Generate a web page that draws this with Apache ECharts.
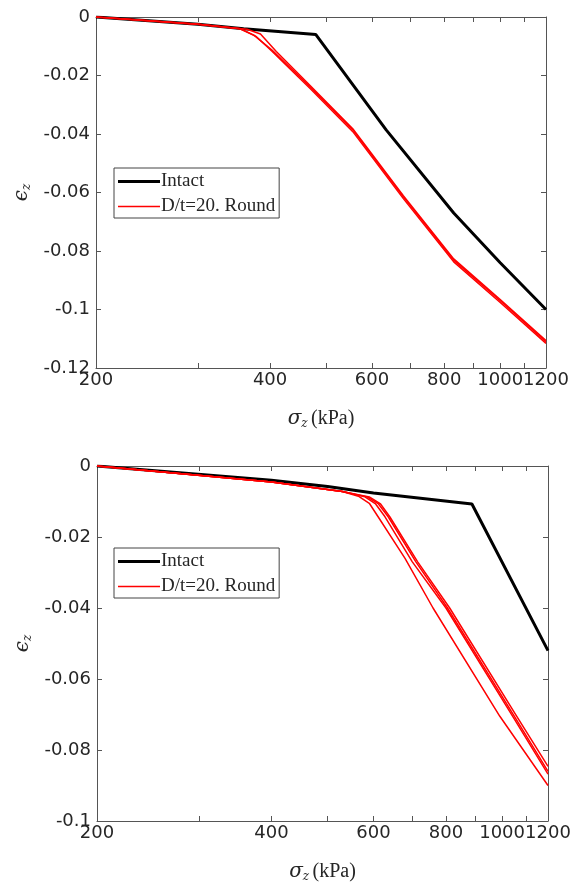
<!DOCTYPE html>
<html><head><meta charset="utf-8">
<script src="https://cdn.jsdelivr.net/npm/echarts@6/dist/echarts.min.js"></script>
<style>html,body{margin:0;padding:0;background:#fff}#c{width:576px;height:884px}</style>
</head><body><div id="c"></div>
<script>
// sigma_z (kPa), eps_z
const xTickLabels = [200, 400, 600, 800, 1000, 1200];
const xMinorTicks = [200, 300, 400, 500, 600, 700, 800, 900, 1000, 1100, 1200];
const topIntact = [[200,0],[300,-0.0025],[360,-0.004],[480,-0.006],[635,-0.0386],[831,-0.067],[1000,-0.084],[1200,-0.100]];
const topRound1 = [[200,0],[300,-0.0025],[355,-0.004],[375,-0.0062],[403,-0.0113],[470,-0.024],[556,-0.0386],[680,-0.0615],[831,-0.0831],[1000,-0.097],[1200,-0.111]];
const topRound2 = [[200,0],[300,-0.0025],[355,-0.004],[378,-0.0066],[403,-0.0117],[470,-0.0246],[556,-0.0392],[680,-0.0621],[831,-0.0837],[1000,-0.0976],[1200,-0.1116]];
const topRound3 = [[200,0],[300,-0.0025],[365,-0.0042],[385,-0.0058],[410,-0.0118],[470,-0.0236],[556,-0.0382],[680,-0.0611],[831,-0.0827],[1000,-0.0966],[1200,-0.1106]];
const botIntact = [[200,0],[400,-0.004],[500,-0.0058],[600,-0.0076],[887,-0.0107],[1200,-0.052]];
const botRound1 = [[200,0],[400,-0.0045],[530,-0.0072],[565,-0.0085],[590,-0.0105],[611,-0.0143],[680,-0.026],[760,-0.040],[991,-0.0705],[1200,-0.090]];
const botRound2 = [[200,0],[400,-0.0045],[530,-0.0072],[580,-0.0087],[605,-0.0107],[628,-0.0143],[700,-0.027],[800,-0.040],[1043,-0.0705],[1200,-0.0868]];
const botRound3 = [[200,0],[400,-0.0045],[530,-0.0072],[585,-0.0087],[612,-0.0107],[636,-0.0143],[710,-0.027],[805,-0.040],[1050,-0.0705],[1200,-0.0860]];
const botRound4 = [[200,0],[400,-0.0045],[530,-0.0072],[590,-0.0087],[617,-0.0107],[640,-0.0143],[715,-0.027],[812,-0.040],[1060,-0.0705],[1200,-0.0846]];

const L = v => Math.log10(v);
const tr = arr => arr.map(p => [L(p[0]), p[1]]);
const txt = '#262626';
const lblFont = {fontFamily:'DejaVu Sans', fontSize:18, color:txt};

function xAx(grid, top){
  return {type:'value', gridIndex:grid, position: top?'top':'bottom', min:L(200), max:L(1200),
    axisLine:{show:true,onZero:false,lineStyle:{color:'#555',width:1}},
    axisTick:{show:true,inside:true,length:5,customValues:xMinorTicks.map(L),lineStyle:{color:'#555'}},
    axisLabel:{show:!top, customValues:xTickLabels.map(L), interval:0, showMinLabel:true, showMaxLabel:true, hideOverlap:false,
      formatter:v=>String(Math.round(Math.pow(10,v))), margin:3, ...lblFont},
    splitLine:{show:false},
    name: top?'':'{s|σ}{z|z} {k|(kPa)}', nameLocation:'middle', nameGap:40,
    nameTextStyle:{rich:{s:{fontFamily:'DejaVu Serif',fontStyle:'italic',fontSize:20,color:txt},
      z:{fontFamily:'DejaVu Serif',fontStyle:'italic',fontSize:12,color:txt,verticalAlign:'bottom',padding:[10,0,0,0]},
      k:{fontFamily:'Liberation Serif',fontSize:20,color:txt}}}};
}
function yAx(grid, right, min){
  return {type:'value', gridIndex:grid, position: right?'right':'left', min:min, max:0, interval:0.02,
    axisLine:{show:true,onZero:false,lineStyle:{color:'#555',width:1}},
    axisTick:{show:true,inside:true,length:5,lineStyle:{color:'#555'}},
    axisLabel:{show:!right, formatter:v=>v===0?'0':String(+v.toFixed(2)), margin:6, ...lblFont},
    splitLine:{show:false},
    name: right?'':'{e|ϵ}{z|z}', nameLocation:'middle', nameGap:62, nameRotate:90,
    nameTextStyle:{rich:{e:{fontFamily:'DejaVu Serif',fontStyle:'italic',fontSize:20,color:txt},
      z:{fontFamily:'DejaVu Serif',fontStyle:'italic',fontSize:12,color:txt,verticalAlign:'bottom',padding:[10,0,0,0]}}}};
}
function ser(name, data, g, color, w){
  return {name:name, type:'line', xAxisIndex:g*2, yAxisIndex:g*2, data:tr(data), symbol:'none', smooth:false,
    lineStyle:{color:color,width:w}, itemStyle:{color:color}, z: color==='#000000'?3:4, animation:false};
}
const RN = 'D/t=20. Round';
const legBase = {orient:'vertical', itemWidth:42, itemHeight:14, itemGap:6, padding:[4,4,2,4],
  borderColor:'#444', borderWidth:1, backgroundColor:'#fff', symbolKeepAspect:true,
  textStyle:{fontFamily:'Liberation Serif', fontSize:19, color:txt, padding:[0,0,0,-4]},
  data:[{name:'Intact', icon:'path://M0,0h42v3h-42z'},{name:RN, icon:'path://M0,0h42v1.6h-42z'}], selectedMode:false};
const chart = echarts.init(document.getElementById('c'));
chart.setOption({
  animation:false,
  grid:[{left:96,right:30,top:17,height:351},{left:97,right:28,top:466,height:356}],
  xAxis:[xAx(0,false),xAx(0,true),xAx(1,false),xAx(1,true)],
  yAxis:[yAx(0,false,-0.12),yAx(0,true,-0.12),yAx(1,false,-0.1),yAx(1,true,-0.1)],
  legend:[{...legBase,left:114,top:168},{...legBase,left:114,top:548}],
  series:[
    ser('Intact',topIntact,0,'#000000',3),
    ser(RN,topRound1,0,'#ff0000',1.5), ser(RN,topRound2,0,'#ff0000',1.5), ser(RN,topRound3,0,'#ff0000',1.5),
    ser('Intact',botIntact,1,'#000000',3),
    ser(RN,botRound1,1,'#ff0000',1.5), ser(RN,botRound2,1,'#ff0000',1.5), ser(RN,botRound3,1,'#ff0000',1.5), ser(RN,botRound4,1,'#ff0000',1.5)
  ]
});
</script></body></html>
